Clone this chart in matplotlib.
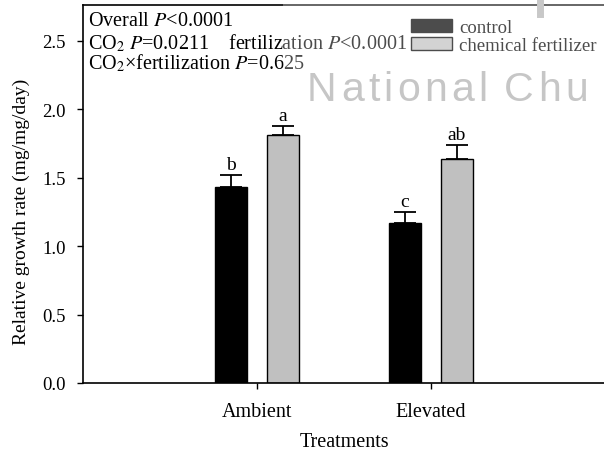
import matplotlib
matplotlib.use("Agg")
import matplotlib.pyplot as plt
import numpy as np
from matplotlib.patches import Patch, Rectangle
from matplotlib.lines import Line2D

plt.rcParams['font.family'] = ['Liberation Serif', 'DejaVu Serif']
plt.rcParams['mathtext.fontset'] = 'stix'

categories = ["Ambient", "Elevated"]
series_names = ["control", "chemical fertilizer"]
control = [1.43, 1.17]
control_err = [0.09, 0.08]
fert = [1.81, 1.64]
fert_err = [0.07, 0.10]
control_letters = ["b", "c"]
fert_letters = ["a", "ab"]
yticks = [0.0, 0.5, 1.0, 1.5, 2.0, 2.5]

W, H = 604, 456
fig = plt.figure(figsize=(W/100, H/100), dpi=100)
ax = fig.add_axes([83/W, (H-384)/H, (W-83)/W + 0.01, (384-6)/H])

x = np.arange(len(categories))
bw = 0.185
off = 0.15
ax.bar(x - off, control, bw, color='black', edgecolor='black', linewidth=1, zorder=2)
ax.bar(x + off, fert, bw, color='#c0c0c0', edgecolor='black', linewidth=1, zorder=2)
ax.errorbar(x - off, control, yerr=[np.zeros(2), control_err], fmt='none',
            ecolor='black', elinewidth=1.3, capsize=8, capthick=1.3, zorder=3)
ax.errorbar(x + off, fert, yerr=[np.zeros(2), fert_err], fmt='none',
            ecolor='black', elinewidth=1.3, capsize=8, capthick=1.3, zorder=3)

for i in range(len(categories)):
    ax.text(x[i] - off, control[i] + control_err[i] + 0.015, control_letters[i],
            ha='center', va='bottom', fontsize=14)
    ax.text(x[i] + off, fert[i] + fert_err[i] + 0.015, fert_letters[i],
            ha='center', va='bottom', fontsize=14)

ax.set_xlim(-1, 2.03)
ax.set_ylim(0, 2.763)
ax.set_xticks(x)
ax.set_xticklabels(categories, fontsize=14.5)
ax.set_yticks(yticks)
ax.set_yticklabels([f"{v:.1f}" for v in yticks], fontsize=13.5)
ax.tick_params(axis='both', direction='out', length=4.5, width=1)
ax.tick_params(axis='x', pad=9)
ax.tick_params(axis='y', pad=8)
for s in ax.spines.values():
    s.set_linewidth(1.2)
ax.set_ylabel("Relative growth rate (mg/mg/day)", fontsize=14)
ax.yaxis.set_label_coords(21/W, 1 - 212/H, transform=fig.transFigure)
ax.set_xlabel("Treatments", fontsize=14.5)
ax.xaxis.set_label_coords(344/W, 1 - 443/H, transform=fig.transFigure)
ax.xaxis.label.set_va('center')
ax.yaxis.label.set_va('center')

# statistics text
fig.text(88/W, 1 - 21.7/H, r"Overall $P$<0.0001", fontsize=14.5, ha='left', va='center')
fig.text(88/W, 1 - 43.3/H, r"CO$_2$ $P$=0.0211    fertilization $P$<0.0001", fontsize=14.5,
         ha='left', va='center')
fig.text(88/W, 1 - 63.3/H, r"CO$_2$×fertilization $P$=0.625", fontsize=14.5, ha='left', va='center')

handles = [Patch(facecolor='black', edgecolor='black'),
           Patch(facecolor='#c0c0c0', edgecolor='black')]
leg = fig.legend(handles, series_names, loc='upper left', bbox_to_anchor=(411/W, 1 - 20/H),
                 frameon=False, fontsize=13.5, handlelength=2.2, handleheight=0.65,
                 handletextpad=0.38, labelspacing=0.05, borderaxespad=0, borderpad=0)

# watermark lightening overlay
fig.patches.append(Rectangle((283/W, 1 - 110/H), (W-283)/W, 110/H, transform=fig.transFigure,
                             facecolor='white', alpha=0.3, edgecolor='none', zorder=20))
fig.lines.append(Line2D([540/W, 540/W], [1, 1 - 15/H], transform=fig.transFigure,
                        color='#c8c8c8', linewidth=5, zorder=21))

# watermark text with wide letter spacing
renderer = fig.canvas.get_renderer()
wm = "National Chu"
xpos = 307
for ch in wm:
    if ch == ' ':
        xpos += 13
        continue
    t = fig.text(xpos/W, 1 - 101/H, ch, fontsize=29.5, color='#c6c6c6',
                 family='Liberation Sans', ha='left', va='baseline', zorder=22)
    bb = t.get_window_extent(renderer=renderer)
    xpos += bb.width + 4.2

fig.savefig("out.png", dpi=100)
